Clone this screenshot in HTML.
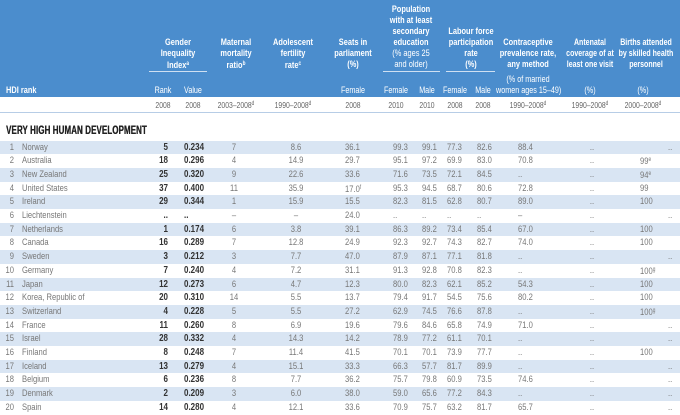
<!DOCTYPE html>
<html><head><meta charset="utf-8">
<style>
*{margin:0;padding:0;box-sizing:border-box}
body{width:680px;height:414px;overflow:hidden;background:#fff;position:relative;font-family:"Liberation Sans",sans-serif}
.hd{position:absolute;left:0;top:0;width:680px;height:97px;background:#4b8dcd}
.h{position:absolute;color:#fff;font-weight:bold;font-size:9.5px;line-height:11px;text-align:center;white-space:nowrap;transform:scaleX(.78);transform-origin:center}
.hn{position:absolute;color:#fff;font-size:9px;line-height:11px;text-align:center;white-space:nowrap;transform:scaleX(.8);transform-origin:center}
.ul{position:absolute;height:1px;background:#cfe0f2;top:71px}
.yr{position:absolute;top:100px;font-size:8.5px;color:#666;text-align:center;white-space:nowrap;transform:scaleX(.8);transform-origin:center}
.sec{position:absolute;left:6px;top:123px;font-size:12px;font-weight:bold;color:#222;letter-spacing:0.2px;transform:scaleX(.66);transform-origin:left;white-space:nowrap;text-shadow:0.4px 0 0 #222}
.r{position:absolute;left:0;width:680px;height:13.7px;font-size:9.5px;line-height:13.7px;color:#777}
.r.b{background:#d9e5f3}
.r span{position:absolute;top:0;white-space:nowrap;transform:scaleX(.8);transform-origin:left}
.n{left:0;width:14px;text-align:right;transform-origin:right!important}
.nm{left:22px}
.rk{left:140px;width:28px;text-align:right;font-weight:bold;color:#333;font-size:10px;transform-origin:right!important}
.v{left:184px;font-weight:bold;color:#333;font-size:10px}
.m{left:214px;width:40px;text-align:center;transform-origin:center!important}
.a{left:276px;width:40px;text-align:center;transform-origin:center!important}
.s{left:345px}.pf{left:393px}.pm{left:422px}.lf{left:447px}.lm{left:477px}.c{left:518px}
.t{left:572px;width:40px;text-align:center;transform-origin:center!important}
.bi{left:640px}
sup{font-size:6px;vertical-align:3px}
</style></head><body>
<div class="hd"></div>
<div class="h" style="left:6px;top:85px;text-align:left;transform-origin:left">HDI rank</div>
<div class="h" style="left:138px;width:80px;top:37px">Gender<br>Inequality<br>Index<sup>a</sup></div>
<div class="ul" style="left:149px;width:58px"></div>
<div class="hn" style="left:148px;width:30px;top:85px">Rank</div>
<div class="hn" style="left:178px;width:30px;top:85px">Value</div>
<div class="h" style="left:206px;width:60px;top:37px">Maternal<br>mortality<br>ratio<sup>b</sup></div>
<div class="h" style="left:263px;width:60px;top:37px">Adolescent<br>fertility<br>rate<sup>c</sup></div>
<div class="h" style="left:323px;width:60px;top:37px">Seats in<br>parliament<br>(%)</div>
<div class="hn" style="left:333px;width:40px;top:85px">Female</div>
<div class="h" style="left:371px;width:80px;top:4px">Population<br>with at least<br>secondary<br>education<br><span style="font-weight:normal">(% ages 25<br>and older)</span></div>
<div class="ul" style="left:383px;width:57px"></div>
<div class="hn" style="left:378px;width:36px;top:85px">Female</div>
<div class="hn" style="left:414px;width:26px;top:85px">Male</div>
<div class="h" style="left:436px;width:70px;top:26px">Labour force<br>participation<br>rate<br>(%)</div>
<div class="ul" style="left:446px;width:49px"></div>
<div class="hn" style="left:437px;width:36px;top:85px">Female</div>
<div class="hn" style="left:472px;width:22px;top:85px">Male</div>
<div class="h" style="left:488px;width:80px;top:37px">Contraceptive<br>prevalence rate,<br>any method</div>
<div class="hn" style="left:488px;width:80px;top:74px">(% of married<br>women ages 15–49)</div>
<div class="h" style="left:555px;width:70px;top:37px;transform:scaleX(.74)">Antenatal<br>coverage of at<br>least one visit</div>
<div class="hn" style="left:555px;width:70px;top:85px">(%)</div>
<div class="h" style="left:606px;width:80px;top:37px;transform:scaleX(.74)">Births attended<br>by skilled health<br>personnel</div>
<div class="hn" style="left:603px;width:80px;top:85px">(%)</div>
<div class="yr" style="left:148px;width:30px">2008</div>
<div class="yr" style="left:178px;width:30px">2008</div>
<div class="yr" style="left:206px;width:60px">2003–2008<sup>d</sup></div>
<div class="yr" style="left:263px;width:60px">1990–2008<sup>d</sup></div>
<div class="yr" style="left:333px;width:40px">2008</div>
<div class="yr" style="left:378px;width:36px">2010</div>
<div class="yr" style="left:414px;width:26px">2010</div>
<div class="yr" style="left:437px;width:36px">2008</div>
<div class="yr" style="left:472px;width:22px">2008</div>
<div class="yr" style="left:488px;width:80px">1990–2008<sup>d</sup></div>
<div class="yr" style="left:555px;width:70px">1990–2008<sup>d</sup></div>
<div class="yr" style="left:603px;width:80px">2000–2008<sup>d</sup></div>
<div style="position:absolute;left:0;top:112px;width:680px;height:1px;background:#b7cde6"></div>
<div class="sec">VERY HIGH HUMAN DEVELOPMENT</div>

<div class="r b" style="top:140.5px"><span class="n">1</span><span class="nm">Norway</span><span class="rk">5</span><span class="v">0.234</span><span class="m">7</span><span class="a">8.6</span><span class="s">36.1</span><span class="pf">99.3</span><span class="pm">99.1</span><span class="lf">77.3</span><span class="lm">82.6</span><span class="c">88.4</span><span class="t">..</span><span class="bi" style="left:668px">..</span></div>
<div class="r" style="top:154.2px"><span class="n">2</span><span class="nm">Australia</span><span class="rk">18</span><span class="v">0.296</span><span class="m">4</span><span class="a">14.9</span><span class="s">29.7</span><span class="pf">95.1</span><span class="pm">97.2</span><span class="lf">69.9</span><span class="lm">83.0</span><span class="c">70.8</span><span class="t">..</span><span class="bi">99<sup>e</sup></span></div>
<div class="r b" style="top:167.9px"><span class="n">3</span><span class="nm">New Zealand</span><span class="rk">25</span><span class="v">0.320</span><span class="m">9</span><span class="a">22.6</span><span class="s">33.6</span><span class="pf">71.6</span><span class="pm">73.5</span><span class="lf">72.1</span><span class="lm">84.5</span><span class="c">..</span><span class="t">..</span><span class="bi">94<sup>e</sup></span></div>
<div class="r" style="top:181.6px"><span class="n">4</span><span class="nm">United States</span><span class="rk">37</span><span class="v">0.400</span><span class="m">11</span><span class="a">35.9</span><span class="s">17.0<sup>f</sup></span><span class="pf">95.3</span><span class="pm">94.5</span><span class="lf">68.7</span><span class="lm">80.6</span><span class="c">72.8</span><span class="t">..</span><span class="bi">99</span></div>
<div class="r b" style="top:195.3px"><span class="n">5</span><span class="nm">Ireland</span><span class="rk">29</span><span class="v">0.344</span><span class="m">1</span><span class="a">15.9</span><span class="s">15.5</span><span class="pf">82.3</span><span class="pm">81.5</span><span class="lf">62.8</span><span class="lm">80.7</span><span class="c">89.0</span><span class="t">..</span><span class="bi">100</span></div>
<div class="r" style="top:209px"><span class="n">6</span><span class="nm">Liechtenstein</span><span class="rk">..</span><span class="v">..</span><span class="m">–</span><span class="a">–</span><span class="s">24.0</span><span class="pf">..</span><span class="pm">..</span><span class="lf">..</span><span class="lm">..</span><span class="c">–</span><span class="t">..</span><span class="bi" style="left:668px">..</span></div>
<div class="r b" style="top:222.7px"><span class="n">7</span><span class="nm">Netherlands</span><span class="rk">1</span><span class="v">0.174</span><span class="m">6</span><span class="a">3.8</span><span class="s">39.1</span><span class="pf">86.3</span><span class="pm">89.2</span><span class="lf">73.4</span><span class="lm">85.4</span><span class="c">67.0</span><span class="t">..</span><span class="bi">100</span></div>
<div class="r" style="top:236.4px"><span class="n">8</span><span class="nm">Canada</span><span class="rk">16</span><span class="v">0.289</span><span class="m">7</span><span class="a">12.8</span><span class="s">24.9</span><span class="pf">92.3</span><span class="pm">92.7</span><span class="lf">74.3</span><span class="lm">82.7</span><span class="c">74.0</span><span class="t">..</span><span class="bi">100</span></div>
<div class="r b" style="top:250.1px"><span class="n">9</span><span class="nm">Sweden</span><span class="rk">3</span><span class="v">0.212</span><span class="m">3</span><span class="a">7.7</span><span class="s">47.0</span><span class="pf">87.9</span><span class="pm">87.1</span><span class="lf">77.1</span><span class="lm">81.8</span><span class="c">..</span><span class="t">..</span><span class="bi" style="left:668px">..</span></div>
<div class="r" style="top:263.8px"><span class="n">10</span><span class="nm">Germany</span><span class="rk">7</span><span class="v">0.240</span><span class="m">4</span><span class="a">7.2</span><span class="s">31.1</span><span class="pf">91.3</span><span class="pm">92.8</span><span class="lf">70.8</span><span class="lm">82.3</span><span class="c">..</span><span class="t">..</span><span class="bi">100<sup>g</sup></span></div>
<div class="r b" style="top:277.5px"><span class="n">11</span><span class="nm">Japan</span><span class="rk">12</span><span class="v">0.273</span><span class="m">6</span><span class="a">4.7</span><span class="s">12.3</span><span class="pf">80.0</span><span class="pm">82.3</span><span class="lf">62.1</span><span class="lm">85.2</span><span class="c">54.3</span><span class="t">..</span><span class="bi">100</span></div>
<div class="r" style="top:291.2px"><span class="n">12</span><span class="nm">Korea, Republic of</span><span class="rk">20</span><span class="v">0.310</span><span class="m">14</span><span class="a">5.5</span><span class="s">13.7</span><span class="pf">79.4</span><span class="pm">91.7</span><span class="lf">54.5</span><span class="lm">75.6</span><span class="c">80.2</span><span class="t">..</span><span class="bi">100</span></div>
<div class="r b" style="top:304.9px"><span class="n">13</span><span class="nm">Switzerland</span><span class="rk">4</span><span class="v">0.228</span><span class="m">5</span><span class="a">5.5</span><span class="s">27.2</span><span class="pf">62.9</span><span class="pm">74.5</span><span class="lf">76.6</span><span class="lm">87.8</span><span class="c">..</span><span class="t">..</span><span class="bi">100<sup>g</sup></span></div>
<div class="r" style="top:318.6px"><span class="n">14</span><span class="nm">France</span><span class="rk">11</span><span class="v">0.260</span><span class="m">8</span><span class="a">6.9</span><span class="s">19.6</span><span class="pf">79.6</span><span class="pm">84.6</span><span class="lf">65.8</span><span class="lm">74.9</span><span class="c">71.0</span><span class="t">..</span><span class="bi" style="left:668px">..</span></div>
<div class="r b" style="top:332.3px"><span class="n">15</span><span class="nm">Israel</span><span class="rk">28</span><span class="v">0.332</span><span class="m">4</span><span class="a">14.3</span><span class="s">14.2</span><span class="pf">78.9</span><span class="pm">77.2</span><span class="lf">61.1</span><span class="lm">70.1</span><span class="c">..</span><span class="t">..</span><span class="bi" style="left:668px">..</span></div>
<div class="r" style="top:346px"><span class="n">16</span><span class="nm">Finland</span><span class="rk">8</span><span class="v">0.248</span><span class="m">7</span><span class="a">11.4</span><span class="s">41.5</span><span class="pf">70.1</span><span class="pm">70.1</span><span class="lf">73.9</span><span class="lm">77.7</span><span class="c">..</span><span class="t">..</span><span class="bi">100</span></div>
<div class="r b" style="top:359.7px"><span class="n">17</span><span class="nm">Iceland</span><span class="rk">13</span><span class="v">0.279</span><span class="m">4</span><span class="a">15.1</span><span class="s">33.3</span><span class="pf">66.3</span><span class="pm">57.7</span><span class="lf">81.7</span><span class="lm">89.9</span><span class="c">..</span><span class="t">..</span><span class="bi" style="left:668px">..</span></div>
<div class="r" style="top:373.4px"><span class="n">18</span><span class="nm">Belgium</span><span class="rk">6</span><span class="v">0.236</span><span class="m">8</span><span class="a">7.7</span><span class="s">36.2</span><span class="pf">75.7</span><span class="pm">79.8</span><span class="lf">60.9</span><span class="lm">73.5</span><span class="c">74.6</span><span class="t">..</span><span class="bi" style="left:668px">..</span></div>
<div class="r b" style="top:387.1px"><span class="n">19</span><span class="nm">Denmark</span><span class="rk">2</span><span class="v">0.209</span><span class="m">3</span><span class="a">6.0</span><span class="s">38.0</span><span class="pf">59.0</span><span class="pm">65.6</span><span class="lf">77.2</span><span class="lm">84.3</span><span class="c">..</span><span class="t">..</span><span class="bi" style="left:668px">..</span></div>
<div class="r" style="top:400.8px"><span class="n">20</span><span class="nm">Spain</span><span class="rk">14</span><span class="v">0.280</span><span class="m">4</span><span class="a">12.1</span><span class="s">33.6</span><span class="pf">70.9</span><span class="pm">75.7</span><span class="lf">63.2</span><span class="lm">81.7</span><span class="c">65.7</span><span class="t">..</span><span class="bi" style="left:668px">..</span></div>
</body></html>
